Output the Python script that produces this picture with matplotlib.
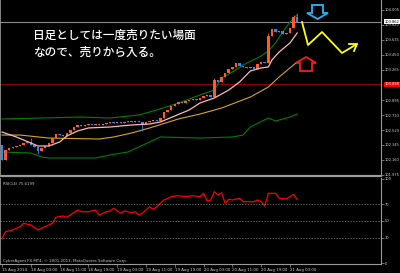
import matplotlib
matplotlib.use("Agg")
import matplotlib.pyplot as plt
from matplotlib.lines import Line2D
from matplotlib.patches import Polygon
import matplotlib.transforms as mtransforms

# ---- datos (USDJPY H1) ----
first_open = 102.340
closes = [102.155, 102.278, 102.303, 102.315, 102.328, 102.340, 102.365, 102.377,
          102.340, 102.315, 102.266, 102.303, 102.328, 102.365, 102.426, 102.476,
          102.463, 102.451, 102.488, 102.525, 102.562, 102.587, 102.574, 102.587,
          102.599, 102.587, 102.599, 102.587, 102.599, 102.611, 102.624, 102.611,
          102.624, 102.611, 102.624, 102.636, 102.624, 102.636, 102.624, 102.599,
          102.624, 102.636, 102.648, 102.636, 102.673, 102.747, 102.772, 102.821,
          102.846, 102.870, 102.858, 102.883, 102.895, 102.907, 102.895, 102.920,
          102.944, 102.957, 102.932, 103.142, 103.117, 103.179, 103.228, 103.277,
          103.302, 103.351, 103.314, 103.302, 103.290, 103.302, 103.277, 103.339,
          103.364, 103.351, 103.684, 103.771, 103.734, 103.746, 103.709, 103.721,
          103.783, 103.919, 103.862]
wick_hi = {8: 102.426, 59: 103.166, 74: 103.721, 81: 103.943, 82: 103.968}
wick_lo = {10: 102.229, 39: 102.513}

ma_fast_idx = [0, 4, 8, 10, 13, 16, 18, 21, 24, 30, 36, 41, 44, 48, 52, 55, 59,
               63, 66, 69, 72, 74, 75, 77, 80, 82]
ma_fast = [102.500, 102.439, 102.365, 102.328, 102.328, 102.377, 102.451, 102.513,
           102.550, 102.562, 102.587, 102.599, 102.624, 102.698, 102.772, 102.858,
           102.920, 103.018, 103.117, 103.253, 103.290, 103.302, 103.388, 103.487,
           103.598, 103.721]
ma_slow_idx = [0, 5, 13, 27, 31, 36, 41, 49, 55, 61, 69, 74, 77, 82]
ma_slow = [102.463, 102.463, 102.426, 102.414, 102.439, 102.488, 102.550, 102.661,
           102.722, 102.796, 102.932, 103.055, 103.179, 103.364]
band_up_idx = [0, 11, 22, 30, 38, 43, 49, 55, 59, 61, 64, 67, 72, 74, 76, 78, 80, 82]
band_up = [102.661, 102.673, 102.685, 102.673, 102.710, 102.772, 102.858, 102.957,
           103.018, 103.166, 103.240, 103.327, 103.438, 103.499, 103.598, 103.734,
           103.857, 103.943]
band_lo_idx = [0, 8, 11, 13, 26, 30, 35, 38, 44, 55, 64, 67, 69, 74, 76, 80, 82]
band_lo = [102.254, 102.241, 102.192, 102.180, 102.180, 102.217, 102.254, 102.315,
           102.439, 102.426, 102.439, 102.463, 102.562, 102.673, 102.636, 102.685,
           102.722]

rsi_idx = [0, 1, 3, 5, 6, 8, 10, 11, 12, 14, 15, 17, 18, 19, 21, 22, 24, 26, 27,
           29, 30, 31, 33, 34, 36, 37, 38, 39, 41, 42, 43, 45, 47, 49, 51, 53, 55,
           56, 57, 58, 59, 60, 61, 62, 63, 64, 66, 67, 70, 71, 72, 73, 74, 76, 77,
           79, 81, 82]
rsi = [29.6, 37.4, 39.4, 43.3, 47.3, 45.3, 39.4, 41.4, 43.3, 47.3, 54.4, 55.9,
       54.4, 57.1, 62.9, 60.9, 60.9, 62.9, 57.1, 60.9, 61.8, 64.9, 59.1, 61.8,
       59.8, 60.9, 57.1, 59.1, 66.8, 63.8, 66.8, 74.7, 78.6, 79.8, 78.6, 79.8,
       78.6, 82.6, 73.5, 74.7, 84.5, 80.6, 83.3, 70.8, 75.5, 74.7, 76.7, 72.7,
       72.7, 74.7, 72.7, 67.6, 82.6, 82.6, 76.7, 75.9, 81.4, 75.6]

price_ticks = [104.005, 103.820, 103.635, 103.450, 103.265, 102.895, 102.710,
               102.520, 102.345, 102.160, 101.975]
rsi_ticks = [100, 70, 50, 30, 0]
time_idx = [0, 8, 16, 24, 32, 40, 48, 56, 64, 72, 80]
time_labels = ["15 Aug 2014", "18 Aug 03:00", "18 Aug 11:00", "18 Aug 19:00",
               "19 Aug 03:00", "19 Aug 11:00", "19 Aug 19:00", "20 Aug 03:00",
               "20 Aug 11:00", "20 Aug 19:00", "21 Aug 03:00"]
bid = 103.862
red_level = 103.088

texto1 = "日足としては一度売りたい場面"
texto2 = "なので、売りから入る。"

# ---- figura ----
W, H = 400, 273
fig = plt.figure(figsize=(W / 100, H / 100), dpi=100, facecolor="black")
ax = fig.add_axes([0, 1 - 176 / H, 381 / W, 176 / H], facecolor="black")
ax2 = fig.add_axes([0, 1 - 264 / H, 381 / W, 86 / H], facecolor="black")

bull = "#ff5a28"
bear = "#1e90ff"
opens = [first_open] + closes[:-1]
for i, (o, c) in enumerate(zip(opens, closes)):
    col = bull if c >= o else bear
    hi = wick_hi.get(i, max(o, c))
    lo = wick_lo.get(i, min(o, c))
    ax.vlines(i, lo, hi, color=col, lw=0.6, zorder=3)
    ax.bar(i, max(abs(c - o), 0.006), bottom=min(o, c), width=0.7,
           color=col, zorder=3)

ax.plot(band_up_idx, band_up, color="#008000", lw=0.8, zorder=2)
ax.plot(band_lo_idx, band_lo, color="#008000", lw=0.8, zorder=2)
ax.plot(ma_slow_idx, ma_slow, color="#daa520", lw=0.8, zorder=2)
ax.plot(ma_fast_idx, ma_fast, color="#ffb6c1", lw=0.9, zorder=4)

ax.axhline(bid, color="#8a8a8a", lw=0.8, zorder=1)
ax.axhline(red_level, color="#8b0000", lw=0.8, zorder=1)

xmin, xmax = -0.556, 105.3
ax.set_xlim(xmin, xmax)
ax.set_ylim(101.958, 104.128)
ax2.set_xlim(xmin, xmax)
ax2.set_ylim(-0.6, 100.6)

for a in (ax, ax2):
    a.yaxis.tick_right()
    a.tick_params(axis="y", colors="#9a9a9a", labelcolor="#d0d0d0",
                  labelsize=2.6, length=2, width=0.5, pad=0.8)
    for s in a.spines.values():
        s.set_color("#9a9a9a")
        s.set_linewidth(0.8)
    a.spines["left"].set_linewidth(0.6)

ax.spines["top"].set_visible(False)
ax.spines["bottom"].set_linewidth(1.6)
ax2.spines["top"].set_visible(False)
ax.set_xticks([])
ax.set_yticks(price_ticks)
ax.set_yticklabels(["%.3f" % v for v in price_ticks])

tr = mtransforms.blended_transform_factory(ax.transAxes, ax.transData)
ax.text(1.01, bid, "%.3f" % bid, transform=tr, fontsize=2.6, color="black",
        va="center", ha="left",
        bbox=dict(boxstyle="square,pad=0.2", fc="white", ec="none"))
ax.text(1.01, red_level, "%.3f" % red_level, transform=tr, fontsize=2.6,
        color="white", va="center", ha="left",
        bbox=dict(boxstyle="square,pad=0.2", fc="#ff0000", ec="none"))

# RSI
ax2.plot(rsi_idx, rsi, color="#ff0000", lw=0.9)
for lvl in (70, 50, 30):
    ax2.axhline(lvl, color="#8a8a8a", lw=0.5, ls=(0, (2, 2)))
ax2.set_yticks(rsi_ticks)
ax2.set_yticklabels([str(v) for v in rsi_ticks])
ax2.set_xticks(time_idx)
ax2.set_xticklabels(time_labels)
ax2.tick_params(axis="x", colors="#9a9a9a", labelcolor="#d0d0d0",
                labelsize=2.8, length=2, width=0.5, pad=0.8)
for lab in ax2.get_xticklabels():
    lab.set_ha("left")

ax2.text(0.008, 0.95, "RSI(14) 75.6199", transform=ax2.transAxes, fontsize=2.8,
         color="#c8c8c8", va="top", ha="left")
ax2.text(0.008, 0.01, "CyberAgent FX MT4, © 2001-2013, MetaQuotes Software Corp.",
         transform=ax2.transAxes, fontsize=2.8, color="#c8c8c8", va="bottom", ha="left")

# texto japones
jp = ["Noto Sans CJK JP", "DejaVu Sans"]
fig.text(33 / W, 1 - 35 / H, texto1, color="white", fontsize=8.4, family=jp,
         weight="medium", va="center", ha="left")
fig.text(33 / W, 1 - 52 / H, texto2, color="white", fontsize=8.4, family=jp,
         weight="medium", va="center", ha="left")


# flechas dibujadas a mano (coordenadas en pixeles de la imagen)
def px(pts):
    return [(x / W, 1 - y / H) for x, y in pts]


flecha_azul = [(312, 5), (323, 5), (323, 13), (328, 13), (317.5, 19), (307, 13), (312, 13)]
flecha_roja = [(300, 71), (312, 71), (312, 63), (316, 63), (306, 57), (296, 63), (300, 63)]
fig.patches.append(Polygon(px(flecha_azul), closed=True, fill=False, ec="#2aa8e8",
                           lw=1.4, transform=fig.transFigure))
fig.patches.append(Polygon(px(flecha_roja), closed=True, fill=False, ec="#ff1a1a",
                           lw=1.3, transform=fig.transFigure))

zigzag = [(302, 22), (308, 45), (322, 32), (342, 53), (357, 44)]
punta = [(349, 44), (357, 44), (354, 51)]
for pts in (zigzag, punta):
    xy = px(pts)
    fig.lines.append(Line2D([p[0] for p in xy], [p[1] for p in xy], color="#ffff00",
                            lw=1.3, transform=fig.transFigure))

fig.savefig("out.png", dpi=100, facecolor="black")
